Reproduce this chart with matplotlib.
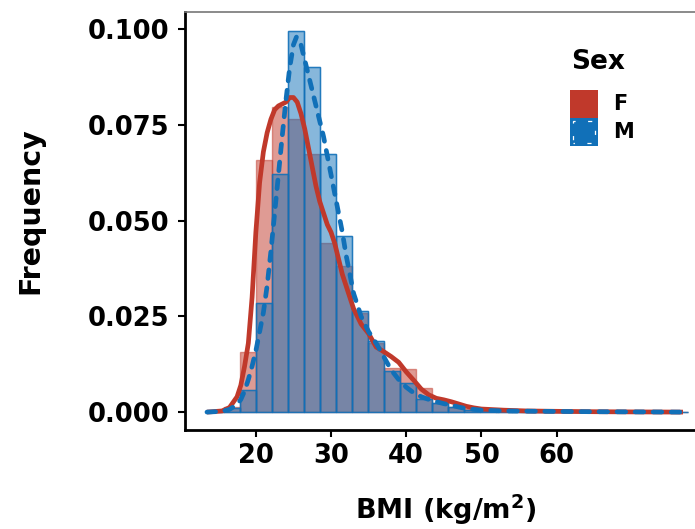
import numpy as np
import matplotlib
matplotlib.use("Agg")
import matplotlib.pyplot as plt
from matplotlib.patches import Rectangle

plt.rcParams['font.family'] = ['DejaVu Sans']
plt.rcParams['font.weight'] = 'bold'
plt.rcParams['mathtext.default'] = 'regular'
plt.rcParams['lines.scale_dashes'] = False

# histogram bins (BMI) and bar heights
bin_start = 13.6
bin_width = 2.13
freq_f = [0.0002, 0.0012, 0.0158, 0.0658, 0.0796, 0.0766, 0.0675, 0.0442,
          0.0382, 0.0260, 0.0180, 0.0115, 0.0112, 0.0062, 0.0024, 0.0014,
          0.0008, 0.0004, 0.0003, 0.0002, 0.0002, 0.0001, 0.0001, 0.0001,
          0.0, 0.0, 0.0, 0.0, 0.0, 0.0]
freq_m = [0.0003, 0.0010, 0.0059, 0.0286, 0.0623, 0.0995, 0.0901, 0.0675,
          0.0461, 0.0265, 0.0186, 0.0108, 0.0075, 0.0033, 0.0023, 0.0014,
          0.0006, 0.0004, 0.0003, 0.0002, 0.0001, 0.0001, 0.0001, 0.0,
          0.0, 0.0, 0.0, 0.0, 0.0, 0.0]

# density curves
dens_f_x = [13.5, 15.5, 16.5, 17.5, 18.0, 18.5, 19.0, 19.5, 20.0, 20.5, 21.0,
            21.5, 22.0, 22.5, 23.0, 23.5, 24.0, 24.5, 25.0, 25.5, 26.0, 26.5,
            27.0, 27.5, 28.0, 28.5, 29.0, 29.5, 30.0, 30.5, 31.0, 31.5, 32.0,
            33.0, 34.0, 35.0, 36.0, 37.0, 38.0, 39.0, 40.0, 41.0, 42.0, 43.0,
            44.0, 45.0, 46.0, 47.0, 48.0, 49.0, 50.0, 53.0, 56.0, 60.0, 65.0,
            70.0, 76.8]
dens_f_y = [0.0, 0.0003, 0.0012, 0.004, 0.007, 0.012, 0.018, 0.030, 0.047,
            0.060, 0.068, 0.073, 0.0765, 0.079, 0.080, 0.0805, 0.081, 0.0822,
            0.0822, 0.081, 0.078, 0.074, 0.069, 0.064, 0.059, 0.055, 0.052,
            0.049, 0.047, 0.044, 0.040, 0.036, 0.033, 0.027, 0.023, 0.0205,
            0.017, 0.0158, 0.0145, 0.013, 0.0105, 0.0083, 0.006, 0.0045,
            0.0036, 0.0032, 0.0027, 0.0021, 0.0015, 0.0011, 0.0008, 0.0005,
            0.0003, 0.0002, 0.0001, 0.00005, 0.0]

dens_m_x = [13.5, 15.5, 16.5, 17.5, 18.0, 18.5, 19.0, 19.5, 20.0, 20.5, 21.0,
            21.5, 22.0, 22.5, 23.0, 23.5, 24.0, 24.5, 25.0, 25.4, 26.0, 26.5,
            27.0, 27.5, 28.0, 28.5, 29.0, 29.5, 30.0, 30.5, 31.0, 31.5, 32.0,
            32.5, 33.0, 34.0, 35.0, 36.0, 37.0, 38.0, 39.0, 40.0, 41.0, 42.0,
            43.0, 44.0, 45.0, 46.0, 47.0, 48.0, 50.0, 53.0, 58.0, 65.0, 76.8]
dens_m_y = [0.0, 0.0002, 0.0007, 0.002, 0.0033, 0.0055, 0.0085, 0.012, 0.016,
            0.021, 0.026, 0.033, 0.042, 0.052, 0.062, 0.072, 0.0815, 0.090,
            0.096, 0.098, 0.096, 0.092, 0.088, 0.084, 0.080, 0.076, 0.072,
            0.067, 0.062, 0.057, 0.052, 0.047, 0.041, 0.036, 0.031, 0.025,
            0.021, 0.018, 0.0145, 0.011, 0.0085, 0.0065, 0.005, 0.004, 0.0033,
            0.0027, 0.0022, 0.0018, 0.0013, 0.0009, 0.0005, 0.0003, 0.0002,
            0.0001, 0.0]

sex_labels = ['F', 'M']
red = '#C0392B'
blue = '#1170B8'

fig = plt.figure(figsize=(6.95, 5.29), dpi=100)
ax = fig.add_axes([0.266, 0.187, 0.734, 0.790])

n = len(freq_f)
lefts = bin_start + bin_width * np.arange(n)
ax.bar(lefts, freq_f, width=bin_width, align='edge', color=red, alpha=0.5,
       edgecolor=red, linewidth=1.0, zorder=1)
ax.bar(lefts, freq_m, width=bin_width, align='edge', color=blue, alpha=0.5,
       edgecolor=blue, linewidth=1.0, zorder=2)
# bar outlines a bit stronger than the fill
ax.bar(lefts, freq_m, width=bin_width, align='edge', fill=False,
       edgecolor=blue, linewidth=1.0, alpha=0.8, zorder=2)

ax.plot(dens_f_x, dens_f_y, color=red, lw=3.4, solid_capstyle='butt', zorder=3)
ax.plot(dens_m_x, dens_m_y, color=blue, lw=3.4, dashes=[6.2, 6.8],
        dash_capstyle='round', zorder=4)

ax.set_xlim(10.56, 78.4)
ax.set_ylim(-0.0047, 0.1045)
ax.set_xticks([20, 30, 40, 50, 60])
ax.set_yticks([0.0, 0.025, 0.05, 0.075, 0.1])
ax.set_yticklabels(['0.000', '0.025', '0.050', '0.075', '0.100'])

for s in ['left', 'bottom']:
    ax.spines[s].set_linewidth(2.0)
    ax.spines[s].set_color('black')
ax.spines['right'].set_visible(False)
ax.spines['top'].set_color('#777777')
ax.spines['top'].set_linewidth(1.2)

ax.tick_params(axis='both', direction='out', length=5, width=1.5,
               labelsize=18.5, colors='black')
ax.tick_params(axis='y', pad=6)
ax.tick_params(axis='x', pad=4)
for lab in ax.get_xticklabels() + ax.get_yticklabels():
    lab.set_fontweight('bold')

ax.set_xlabel('BMI (kg/m$^{2}$)', fontsize=19.5, fontweight='bold')
ax.xaxis.set_label_coords(0.512, -0.150)
ax.set_ylabel('Frequency', fontsize=20.5, fontweight='bold')
ax.yaxis.set_label_coords(-0.276, 0.525)

# legend drawn by hand in figure pixels
W, H = 695, 529
def fx(px):
    return px / W
def fy(py):
    return 1 - py / H

fig.text(fx(571), fy(62), 'Sex', fontsize=19, fontweight='bold',
         ha='left', va='center')
sw = 28
for i, (lab, col) in enumerate(zip(sex_labels, [red, blue])):
    top = 90 + i * sw
    fig.patches.append(Rectangle((fx(570), fy(top + sw)), sw / W, sw / H,
                                 transform=fig.transFigure, facecolor=col,
                                 edgecolor='none'))
    fig.text(fx(613), fy(top + sw / 2), lab, fontsize=15, fontweight='bold',
             ha='left', va='center')
# white dash marks on the M key
fig.patches.append(Rectangle((fx(573), fy(90 + 2 * sw - 3)), (sw - 6) / W,
                             (sw - 6) / H, transform=fig.transFigure,
                             fill=False, edgecolor='white', lw=0.9,
                             linestyle=(2, (3, 9))))

fig.savefig('out.png', dpi=100)
